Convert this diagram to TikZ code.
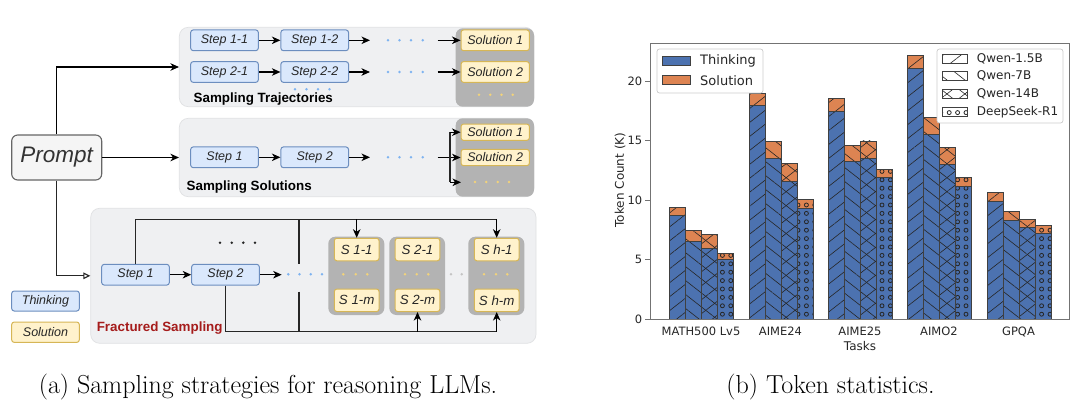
\documentclass[tikz,border=0pt]{standalone}
\usepackage{fontspec}
\newfontfamily\ls{Liberation Sans}
\newfontfamily\dv{DejaVu Sans}
\usetikzlibrary{arrows.meta,patterns.meta}
\definecolor{stepfill}{HTML}{DAE8FC}
\definecolor{stepdraw}{HTML}{6C8EBF}
\definecolor{solfill}{HTML}{FFF2CC}
\definecolor{soldraw}{HTML}{D6B656}
\definecolor{panelfill}{HTML}{EFF0F2}
\definecolor{paneldraw}{HTML}{E0E1E3}
\definecolor{grpfill}{HTML}{B3B3B3}
\definecolor{bdot}{HTML}{7EB3F0}
\definecolor{ydot}{HTML}{F2D37A}
\definecolor{gdot}{HTML}{C4C4C4}
\definecolor{fsred}{HTML}{A51C1C}
\definecolor{bblue}{HTML}{4C72B0}
\definecolor{borange}{HTML}{DD8452}
\definecolor{ink}{HTML}{262626}
\tikzdeclarepattern{
  name=ringdots,
  type=uncolored,
  bounding box={(-4.2pt,-4.2pt) and (4.2pt,4.2pt)},
  tile size={(8.4pt,8.4pt)},
  code={\pgfsetlinewidth{0.8pt}\pgfpathcircle{\pgfpointorigin}{2pt}\pgfusepath{stroke}}
}
\newcommand\tbar[5]{%
  \fill[bblue] (#1,319) rectangle ({#1+16},{319-11.9*#2});
  \fill[borange] (#1,{319-11.9*#2}) rectangle ({#1+16},{319-11.9*#3});
  \path[#4] (#1,319) rectangle ({#1+16},{319-11.9*#3});
  \path[#5] (#1,319) rectangle ({#1+16},{319-11.9*#3});
  \draw[baredge] (#1,319) rectangle ({#1+16},{319-11.9*#2});
  \draw[baredge] (#1,{319-11.9*#2}) rectangle ({#1+16},{319-11.9*#3});
}
\begin{document}
\begin{tikzpicture}[x=1pt,y=-1pt,
  panel/.style={draw=paneldraw, fill=panelfill, rounded corners=9pt, line width=0.7pt, inner sep=0pt},
  grp/.style={fill=grpfill, rounded corners=7pt, inner sep=0pt},
  stepbox/.style={draw=stepdraw, fill=stepfill, rounded corners=2.5pt, line width=1pt, inner sep=0pt,
    minimum width=67.6pt, minimum height=20.7pt, font=\ls\itshape\fontsize{12.5}{14}\selectfont, text=ink},
  solbox/.style={stepbox, draw=soldraw, fill=solfill, minimum width=68.3pt},
  sbox/.style={solbox, minimum width=44.7pt, minimum height=22.5pt, font=\ls\itshape\fontsize{13.3}{15}\selectfont},
  arr/.style={-{Stealth[length=8.5pt,width=7.5pt,inset=2.5pt]}, line width=1.1pt, draw=black},
  ln/.style={line width=1.1pt, draw=black!85},
  ptitle/.style={font=\ls\bfseries\fontsize{13.4}{15}\selectfont, text=black, inner sep=0pt},
  bdots/.style={fill=bdot},
  ydots/.style={fill=ydot},
  kdots/.style={fill=black!85},
  gdots/.style={fill=gdot},
  baredge/.style={draw=black!75, line width=0.7pt},
  hA/.style={pattern={Lines[angle=38,distance=11pt,line width=0.6pt]}, pattern color=black!85},
  hB/.style={pattern={Lines[angle=-38,distance=11pt,line width=0.6pt]}, pattern color=black!85},
  hD/.style={pattern=ringdots, pattern color=black!85},
  hN/.style={},
  spine/.style={draw=black!55, line width=0.9pt},
  ticklab/.style={font=\dv\fontsize{11.5}{13}\selectfont, text=ink, inner sep=0pt},
  axlab/.style={font=\dv\fontsize{12}{14}\selectfont, text=ink, inner sep=0pt},
  leglab/.style={font=\dv\fontsize{13}{15}\selectfont, text=ink, inner sep=0pt, anchor=west},
  leglabB/.style={font=\dv\fontsize{12}{14}\selectfont, text=ink, inner sep=0pt, anchor=west},
  legframe/.style={draw=black!20, fill=white, rounded corners=2.5pt, line width=0.7pt},
  captxt/.style={font=\fontsize{26}{30}\selectfont, text=black, inner sep=0pt}
]
\useasboundingbox (0,0) rectangle (1080,415);
\fill[white] (0,0) rectangle (1080,415);

% ---------------- panels ----------------
\node[panel, minimum width=354.7pt, minimum height=79.4pt] (P1) at (356.65,67) {};
\node[panel, minimum width=354.7pt, minimum height=78.4pt] (P2) at (356.65,157.5) {};
\node[panel, minimum width=445.3pt, minimum height=135pt] (P3) at (313.35,275.8) {};
\node[grp, minimum width=78.3pt, minimum height=78.4pt] (G1) at (494.85,67.5) {};
\node[grp, minimum width=78.3pt, minimum height=78.4pt] (G2) at (494.85,157.5) {};
\node[grp, minimum width=56pt, minimum height=78.3pt] (H1) at (356.3,275.85) {};
\node[grp, minimum width=55.7pt, minimum height=78.3pt] (H2) at (417.15,275.85) {};
\node[grp, minimum width=56pt, minimum height=78.3pt] (Hh) at (496.3,275.85) {};

% ---------------- prompt ----------------
\node[draw=black!60, fill=black!4, rounded corners=6pt, line width=1.1pt, minimum width=90pt, minimum height=45pt,
  inner sep=0pt, font=\ls\itshape\fontsize{22.5}{26}\selectfont, text=black!80] (prompt) at (56.7,157.5) {Prompt};

% ---------------- panel 1 ----------------
\node[stepbox] (A11) at (224.5,40.3) {Step 1-1};
\node[stepbox] (A12) at (314.7,40.3) {Step 1-2};
\node[stepbox] (A21) at (224.5,72) {Step 2-1};
\node[stepbox] (A22) at (314.7,72) {Step 2-2};
\node[solbox] (AS1) at (495.2,40.3) {Solution 1};
\node[solbox] (AS2) at (495.2,72) {Solution 2};
\node[ptitle] (T1) at (263.3,99) {Sampling Trajectories};
\coordinate (ae1) at (370,40.3);
\coordinate (ab1) at (437.7,40.3);
\coordinate (ae2) at (370,72);
\coordinate (ab2) at (437.7,72);
\draw[arr] (A11) -- (A12);
\draw[arr] (A12) -- (ae1);
\draw[arr] (ab1) -- (AS1);
\draw[arr] (A21) -- (A22);
\draw[arr] (A22) -- (ae2);
\draw[arr] (ab2) -- (AS2);
\foreach \x in {388,399.5,411,422.7} {\fill[bdots] (\x,40.3) circle[radius=1.4]; \fill[bdots] (\x,72) circle[radius=1.4];}
\foreach \x in {295,306.5,318,329.5} {\fill[bdots] (\x,89.3) circle[radius=1.4];}
\foreach \x in {479,490.2,501.5,512.7} {\fill[ydots] (\x,94.7) circle[radius=1.4];}

% ---------------- panel 2 ----------------
\node[stepbox] (B1) at (224.5,157.3) {Step 1};
\node[stepbox] (B2) at (314.7,157.3) {Step 2};
\node[solbox, minimum height=16.3pt] (BS1) at (495.2,132.2) {Solution 1};
\node[solbox, minimum height=16.3pt] (BS2) at (495.2,157.5) {Solution 2};
\node[ptitle] (T2) at (249.2,186.7) {Sampling Solutions};
\coordinate (be) at (370,157.3);
\coordinate (bb) at (437.7,157.5);
\coordinate (brT) at (450,132.2);
\coordinate (brB) at (450,182.3);
\coordinate (brE) at (461,182.3);
\draw[arr] (B1) -- (B2);
\draw[arr] (B2) -- (be);
\draw[arr] (bb) -- (BS2);
\draw[ln] (brT) -- (brB);
\draw[arr] (brT) -- (BS1);
\draw[arr] (brB) -- (brE);
\foreach \x in {388,399.5,411,422.7} {\fill[bdots] (\x,157.3) circle[radius=1.4];}
\foreach \x in {475,486.3,497.7,509} {\fill[ydots] (\x,182) circle[radius=1.4];}

% ---------------- panel 3 ----------------
\node[stepbox] (C1) at (135.5,274.7) {Step 1};
\node[stepbox] (C2) at (225.5,274.7) {Step 2};
\node[sbox] (F11) at (356.7,249.5) {S 1-1};
\node[sbox] (F1m) at (356.7,300.3) {S 1-m};
\node[sbox] (F21) at (417.5,249.5) {S 2-1};
\node[sbox] (F2m) at (417.5,300.3) {S 2-m};
\node[sbox] (Fh1) at (496.7,249.5) {S h-1};
\node[sbox] (Fhm) at (496.7,300.3) {S h-m};
\node[ptitle, text=fsred] (T3) at (159.7,327.7) {Fractured Sampling};
\coordinate (ce) at (281.7,274.7);
\coordinate (tR) at (496.7,219.3);
\coordinate (tM) at (356.7,219.3);
\coordinate (bR) at (496.7,331.7);
\coordinate (bM) at (417.5,331.7);
\coordinate (vA) at (299,219.3);
\coordinate (vB) at (299,264);
\coordinate (vC) at (299,291.7);
\coordinate (vD) at (299,331.7);
\draw[arr] (C1) -- (C2);
\draw[arr] (C2) -- (ce);
\draw[ln] (C1.north) |- (tR);
\draw[arr] (tR) -- (Fh1.north);
\draw[arr] (tM) -- (F11.north);
\draw[ln] (C2.south) |- (bR);
\draw[arr] (bR) -- (Fhm.south);
\draw[arr] (bM) -- (F2m.south);
\draw[ln] (vA) -- (vB);
\draw[ln] (vC) -- (vD);
\foreach \x in {288.3,299.5,310.7,322} {\fill[bdots] (\x,274.3) circle[radius=1.4];}
\foreach \x in {220,231.7,243.3,255} {\fill[kdots] (\x,242.7) circle[radius=1.4];}
\foreach \x in {343.3,355.7,367.3,405,416.7,428.3,484,496,507.3} {\fill[ydots] (\x,274.3) circle[radius=1.4];}
\foreach \x in {451,461.7} {\fill[gdots] (\x,274.3) circle[radius=1.4];}

% prompt connectors
\draw[arr] (prompt.north) |- (P1.west);
\draw[arr] (prompt) -- (P2.west);
\draw[line width=1.1pt, draw=black!85, -{Triangle[open,length=7pt,width=6.5pt]}] (prompt.south) |- (P3.west);

% legend
\node[stepbox, minimum height=20pt] (LT) at (45.5,301) {Thinking};
\node[solbox, minimum width=67.6pt, minimum height=20.3pt] (LS) at (45.5,332.2) {Solution};

% ---------------- chart ----------------
\tbar{669}{8.71}{9.41}{hA}{hN}
\tbar{685}{6.53}{7.42}{hB}{hN}
\tbar{701}{5.94}{7.09}{hA}{hB}
\tbar{717}{5.01}{5.52}{hD}{hN}
\tbar{749}{17.93}{18.97}{hA}{hN}
\tbar{765}{13.50}{14.93}{hB}{hN}
\tbar{781}{11.57}{13.05}{hA}{hB}
\tbar{797}{9.30}{10.06}{hD}{hN}
\tbar{828}{17.45}{18.54}{hA}{hN}
\tbar{844}{13.28}{14.62}{hB}{hN}
\tbar{860}{13.50}{14.96}{hA}{hB}
\tbar{876}{11.91}{12.58}{hD}{hN}
\tbar{907}{21.09}{22.13}{hA}{hN}
\tbar{923}{15.52}{16.92}{hB}{hN}
\tbar{939}{13.00}{14.40}{hA}{hB}
\tbar{955}{11.15}{11.88}{hD}{hN}
\tbar{987}{9.89}{10.64}{hA}{hN}
\tbar{1003}{8.26}{9.02}{hB}{hN}
\tbar{1019}{7.70}{8.40}{hA}{hB}
\tbar{1035}{7.17}{7.87}{hD}{hN}

\draw[spine] (650,43) rectangle (1069,319);
\foreach \v in {0,5,10,15,20} {
  \draw[spine] (645,{319-11.9*\v}) -- (650,{319-11.9*\v});
  \node[ticklab, anchor=east] (yt\v) at (642.5,{319-11.9*\v}) {\v};
}
\node[ticklab] (xt1) at (701,331.7) {MATH500 Lv5};
\node[ticklab] (xt2) at (780.5,331.7) {AIME24};
\node[ticklab] (xt3) at (860,331.7) {AIME25};
\node[ticklab] (xt4) at (939,331.7) {AIMO2};
\node[ticklab] (xt5) at (1018.5,331.7) {GPQA};
\node[axlab] (xl) at (860,346) {Tasks};
\node[axlab, rotate=90] (yl) at (620,180) {Token Count (K)};

% legends
\draw[legframe] (657,49) rectangle (763,93);
\draw[fill=bblue, draw=black!75, line width=0.7pt] (662,56) rectangle (690,65);
\draw[fill=borange, draw=black!75, line width=0.7pt] (662,75.7) rectangle (690,84.7);
\node[leglab] (lg1) at (700,60.5) {Thinking};
\node[leglab] (lg2) at (700,80.2) {Solution};

\draw[legframe] (937,49) rectangle (1063,123);
\foreach \yc/\pa/\pb/\lab [count=\i] in {58.7/hA/hN/Qwen-1.5B, 76.3/hB/hN/Qwen-7B, 94/hA/hB/Qwen-14B, 111.7/hD/hN/DeepSeek-R1} {
  \fill[white] (942,\yc-4.5) rectangle (967,\yc+4.5);
  \path[\pa] (942,\yc-4.5) rectangle (967,\yc+4.5);
  \path[\pb] (942,\yc-4.5) rectangle (967,\yc+4.5);
  \draw[draw=black!75, line width=0.7pt] (942,\yc-4.5) rectangle (967,\yc+4.5);
  \node[leglabB] (lm\i) at (976.7,\yc) {\lab};
}

% captions
\node[captxt] (capa) at (268,387) {(a) Sampling strategies for reasoning LLMs.};
\node[captxt] (capb) at (830.5,387) {(b) Token statistics.};
\end{tikzpicture}
\end{document}
